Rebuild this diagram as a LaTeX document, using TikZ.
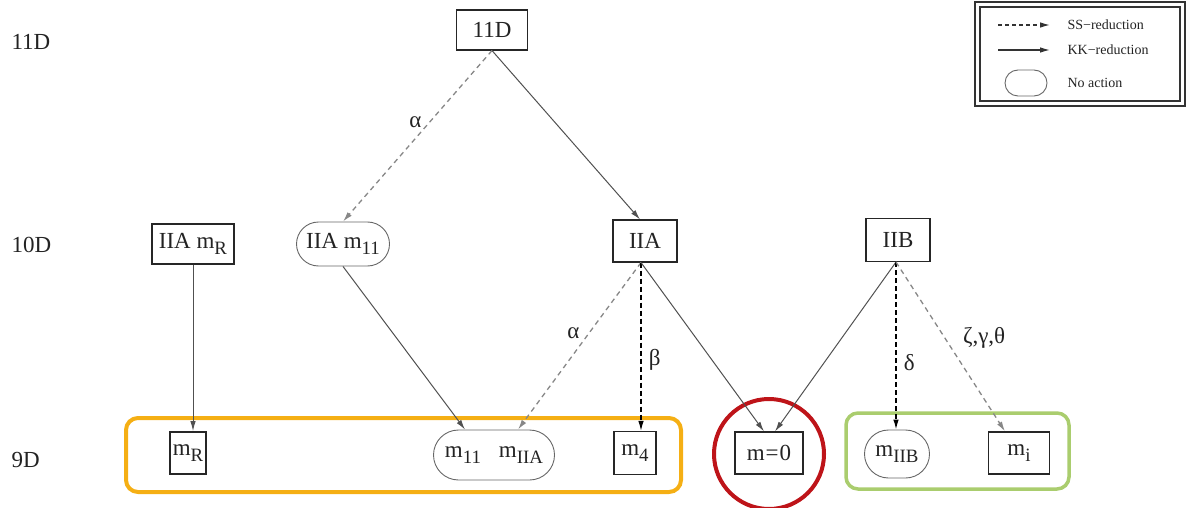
\documentclass[tikz,border=0pt]{standalone}
\usepackage{fontspec}
\setmainfont{Liberation Serif}
\usetikzlibrary{arrows.meta,shapes.misc}
\newcommand\msub[1]{\raisebox{-0.5ex}{\scalebox{0.82}{#1}}}
\definecolor{edgegray}{RGB}{80,80,80}
\definecolor{ssgray}{RGB}{135,135,135}
\definecolor{boxorange}{RGB}{245,175,20}
\definecolor{boxgreen}{RGB}{170,205,110}
\definecolor{ringred}{RGB}{190,20,25}
\definecolor{txt}{RGB}{35,35,35}
\begin{document}
\begin{tikzpicture}[x=1pt,y=-1pt,
  every node/.style={text=txt,font=\fontsize{23}{27}\selectfont},
  sqbox/.style={draw=black!85,line width=1.1pt,minimum height=40pt,inner xsep=6pt},
  pill/.style={draw=black!60,line width=0.9pt,rounded rectangle,minimum height=44pt,inner xsep=8pt},
  dimlabel/.style={anchor=west},
  tip/.style={-{Latex[length=10pt,width=5.5pt]}},
  kk/.style={tip,draw=edgegray,line width=1pt},
  ss/.style={tip,draw=ssgray,line width=1.3pt,dash pattern=on 5pt off 4pt},
  ssdark/.style={tip,draw=black,line width=1.2pt,dash pattern=on 5pt off 3pt},
  greek/.style={text=txt,font=\fontsize{23}{27}\selectfont}]
\useasboundingbox (0,0) rectangle (1188,508);

% dimension labels
\node[dimlabel] (d11) at (8,42) {11D};
\node[dimlabel] (d10) at (8,245) {10D};
\node[dimlabel] (d9) at (8,460) {9D};

% groups at 9D
\draw[boxorange,line width=4pt,rounded corners=12pt] (126,418) rectangle (681,492);
\draw[boxgreen,line width=3.5pt,rounded corners=12pt] (846,413) rectangle (1069,489);
\node[draw=ringred,line width=4pt,circle,minimum size=110pt] (ring) at (769,454) {};

% nodes
\node[sqbox,minimum width=71pt] (top) at (492,30) {11D};
\node[sqbox,minimum width=82pt,inner xsep=3pt] (iiamr) at (193,244) {IIA m\msub{R}};
\node[pill,minimum width=101pt,inner xsep=4pt] (iiam11) at (343,244) {IIA m\msub{11}};
\node[sqbox,minimum width=64pt,minimum height=42pt] (iia) at (645,241) {IIA};
\node[sqbox,minimum width=64pt,minimum height=43pt] (iib) at (898,240) {IIB};

\node[sqbox,minimum width=36pt,minimum height=42pt,inner xsep=1pt,line width=1.8pt] (mr) at (188,453) {m\msub{R}};
\node[pill,minimum width=137pt,minimum height=50pt] (pair) at (494,455) {m\msub{11}\hspace{18pt}m\msub{IIA}};
\node[sqbox,minimum width=42pt,minimum height=43pt,inner xsep=2pt] (m4) at (635,453) {m\msub{4}};
\node[sqbox,minimum width=68pt,minimum height=42pt] (mzero) at (769,453) {m\kern1pt=\kern1pt0};
\node[pill,minimum width=71pt,minimum height=48pt,inner xsep=3pt] (miib) at (897,454) {m\msub{IIB}};
\node[sqbox,minimum width=61pt,minimum height=42pt] (mi) at (1019,453) {m\msub{i}};

% reductions 11D -> 10D
\draw[ss] (top.south) -- (iiam11.north) node[greek,pos=0.42,left=4pt] (la1) {α};
\draw[kk] (top.south) -- ([xshift=-5pt]iia.north);

% reductions 10D -> 9D
\draw[kk] (iiamr.south) -- ([xshift=5pt]mr.north);
\draw[kk] (iiam11.south) -- ([xshift=-29pt]pair.north);
\draw[ss] ([xshift=-4pt]iia.south) -- ([xshift=24pt]pair.north) node[greek,pos=0.42,left=6pt] (la2) {α};
\draw[ssdark] ([xshift=-4pt]iia.south) -- ([xshift=-4pt]iia.south |- m4.north) node[greek,pos=0.58,right=4pt] (lb) {β};
\draw[kk] ([xshift=-4pt]iia.south) -- ([xshift=-5pt]mzero.north);
\draw[kk] ([xshift=-2pt]iib.south) -- ([xshift=6pt]mzero.north);
\draw[ssdark] ([xshift=-2pt]iib.south) -- ([xshift=-2pt]iib.south |- miib.north) node[greek,pos=0.6,right=4pt] (ld) {δ};
\draw[ss] ([xshift=-2pt]iib.south) -- ([xshift=-14pt]mi.north) node[greek,pos=0.45,right=14pt] (lz) {ζ,γ,θ};

% legend
\draw[black!80,line width=1.2pt] (975,2) rectangle (1185,106);
\draw[black!80,line width=2.2pt] (980,7) rectangle (1180,101);
\coordinate (ssa) at (998,25);
\coordinate (ssb) at (1050,25);
\coordinate (kka) at (998,50);
\coordinate (kkb) at (1050,50);
\draw[tip,black!80,line width=1.1pt,dash pattern=on 4pt off 3pt] (ssa) -- (ssb);
\draw[tip,black!80,line width=1.1pt] (kka) -- (kkb);
\node[pill,minimum width=58pt,minimum height=26pt] (lgpill) at (1026,83) {};
\node[anchor=west,font=\fontsize{14}{16}\selectfont] (lgss) at (1064,25) {SS−reduction};
\node[anchor=west,font=\fontsize{14}{16}\selectfont] (lgkk) at (1064,50) {KK−reduction};
\node[anchor=west,font=\fontsize{14}{16}\selectfont] (lgno) at (1064,83) {No action};
\end{tikzpicture}
\end{document}
